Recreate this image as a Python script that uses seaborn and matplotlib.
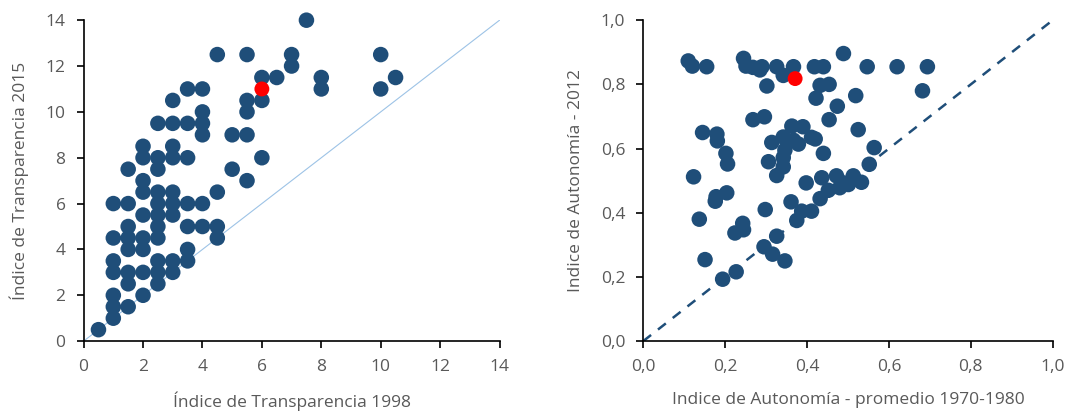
import numpy as np
import pandas as pd
import matplotlib
matplotlib.use("Agg")
import matplotlib.pyplot as plt
import seaborn as sns

# --- left panel: transparency index 1998 vs 2015 (grid of half points)
trans_cols = {
    0.5: [0.5],
    1.0: [1, 1.5, 2, 3, 3.5, 4.5, 6],
    1.5: [1.5, 2.5, 3, 4, 4.5, 5, 6, 7.5],
    2.0: [2, 3, 4, 4.5, 5.5, 6.5, 7, 8, 8.5],
    2.5: [2.5, 3, 3.5, 4.5, 5, 5.5, 6, 6.5, 7.5, 8, 9.5],
    3.0: [3, 3.5, 5.5, 6, 6.5, 8, 8.5, 9.5, 10.5],
    3.5: [3.5, 4, 5, 6, 8, 9.5, 11],
    4.0: [5, 6, 9, 9.5, 10, 11],
    4.5: [4.5, 5, 6.5, 12.5],
    5.0: [7.5, 9],
    5.5: [7, 9, 10, 10.5, 12.5],
    6.0: [8, 10.5, 11.5],
    6.5: [11.5],
    7.0: [12, 12.5],
    7.5: [14],
    8.0: [11, 11.5],
    10.0: [11, 12.5],
    10.5: [11.5],
}
trans_1998 = [x for x, ys in trans_cols.items() for _ in ys]
trans_2015 = [y for ys in trans_cols.values() for y in ys]
trans_hi = (6.0, 11.0)

# --- right panel: autonomy index 1970-1980 average vs 2012
auto_7080 = [0.110, 0.120, 0.155, 0.245, 0.251, 0.268, 0.285, 0.290, 0.326, 0.342,
             0.367, 0.418, 0.440, 0.489, 0.547, 0.620, 0.694,
             0.302, 0.432, 0.454, 0.422, 0.474, 0.519, 0.682,
             0.268, 0.296, 0.454, 0.363, 0.390, 0.525,
             0.145, 0.180, 0.181, 0.202, 0.206, 0.314, 0.342, 0.367, 0.379, 0.411,
             0.420, 0.346, 0.342, 0.306, 0.342, 0.440, 0.564, 0.552,
             0.123, 0.326, 0.398, 0.436, 0.472, 0.489, 0.501, 0.513, 0.533, 0.480,
             0.452, 0.432,
             0.178, 0.176, 0.204, 0.137, 0.151, 0.194, 0.227, 0.224, 0.243, 0.245,
             0.298, 0.326, 0.295, 0.316, 0.346, 0.361, 0.375, 0.387, 0.411]
auto_2012 = [0.873, 0.857, 0.855, 0.881, 0.857, 0.853, 0.845, 0.855, 0.855, 0.828,
             0.855, 0.855, 0.855, 0.896, 0.855, 0.855, 0.855,
             0.795, 0.797, 0.800, 0.757, 0.732, 0.765, 0.780,
             0.690, 0.699, 0.690, 0.670, 0.668, 0.659,
             0.650, 0.645, 0.624, 0.585, 0.552, 0.619, 0.636, 0.626, 0.614, 0.635,
             0.630, 0.595, 0.572, 0.559, 0.543, 0.585, 0.603, 0.551,
             0.512, 0.516, 0.493, 0.509, 0.515, 0.493, 0.488, 0.515, 0.495, 0.478,
             0.470, 0.444,
             0.450, 0.436, 0.462, 0.380, 0.254, 0.193, 0.216, 0.337, 0.367, 0.347,
             0.410, 0.327, 0.294, 0.271, 0.250, 0.434, 0.376, 0.405, 0.405]
auto_hi = (0.371, 0.818)

blue = "#1f4e79"
grey = "#595959"

sns.set_style("ticks")
plt.rcParams["font.family"] = ["Open Sans", "DejaVu Sans"]

fig = plt.figure(figsize=(10.72, 4.12), dpi=100)
ax1 = fig.add_axes([0.078, 0.172, 0.388, 0.779])
ax2 = fig.add_axes([0.600, 0.172, 0.382, 0.779])

df1 = pd.DataFrame({"x": trans_1998, "y": trans_2015})
ax1.plot([0, 14], [0, 14], color="#9dc3e6", lw=0.8, zorder=1)
sns.scatterplot(data=df1, x="x", y="y", ax=ax1, color=blue, s=125,
                edgecolor="none", zorder=2, clip_on=False)
ax1.scatter([trans_hi[0]], [trans_hi[1]], color="#ff0000", s=115,
            edgecolor="none", zorder=3)
ax1.set_xlim(0, 14)
ax1.set_ylim(0, 14)
ax1.set_xticks(range(0, 15, 2))
ax1.set_yticks(range(0, 15, 2))
ax1.set_xlabel("Índice de Transparencia 1998", color=grey, fontsize=12.5, labelpad=12)
ax1.set_ylabel("Índice de Transparencia 2015", color=grey, fontsize=12.5, labelpad=12)

df2 = pd.DataFrame({"x": auto_7080, "y": auto_2012})
ax2.plot([0, 1], [0, 1], color=blue, lw=1.8, ls=(0, (4, 3.5)), zorder=1)
sns.scatterplot(data=df2, x="x", y="y", ax=ax2, color=blue, s=125,
                edgecolor="none", zorder=2, clip_on=False)
ax2.scatter([auto_hi[0]], [auto_hi[1]], color="#ff0000", s=115,
            edgecolor="none", zorder=3)
ax2.set_xlim(0, 1)
ax2.set_ylim(0, 1)
ticks = np.round(np.arange(0, 1.01, 0.2), 1)
lbls = [f"{t:.1f}".replace(".", ",") for t in ticks]
ax2.set_xticks(ticks)
ax2.set_xticklabels(lbls)
ax2.set_yticks(ticks)
ax2.set_yticklabels(lbls)
ax2.set_xlabel("Indice de Autonomía - promedio 1970-1980", color=grey, fontsize=12.5, labelpad=12)
ax2.set_ylabel("Indice de Autonomía - 2012", color=grey, fontsize=12.5, labelpad=12)

for ax in (ax1, ax2):
    sns.despine(ax=ax)
    for sp in ("left", "bottom"):
        ax.spines[sp].set_color("black")
        ax.spines[sp].set_linewidth(1.2)
    ax.tick_params(colors="black", labelcolor=grey, labelsize=12.5,
                   length=5, width=1.2, direction="out", pad=8)

fig.savefig("out.png", dpi=100)
